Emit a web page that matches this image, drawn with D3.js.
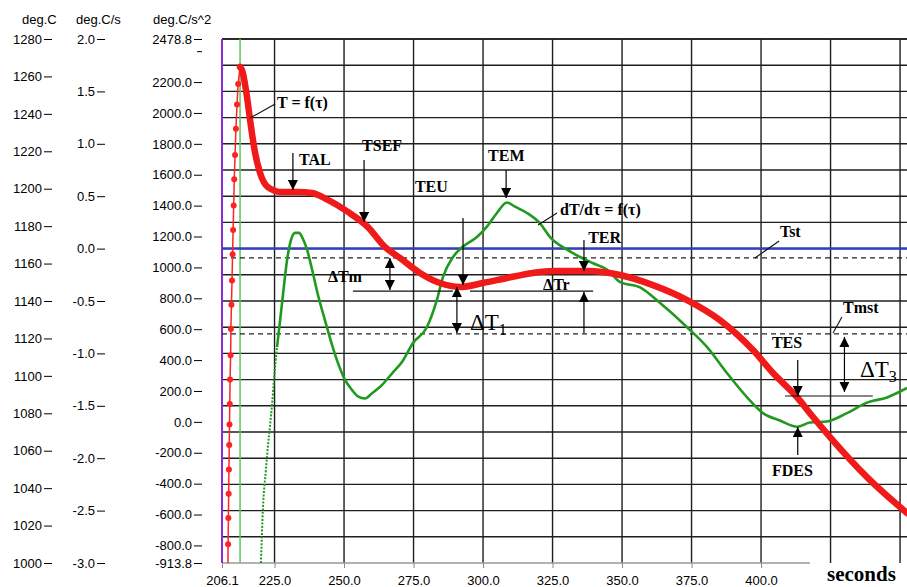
<!DOCTYPE html>
<html>
<head>
<meta charset="utf-8">
<title>Cooling curve T = f(t) and dT/dt</title>
<script src="https://cdn.jsdelivr.net/npm/d3@7"></script>
<style>
  * { margin: 0; padding: 0; }
  body { background: #fff; }
  svg text { font-family: "Liberation Sans", Arial, sans-serif; font-size: 13px; fill: #000; }
  svg text.ann { font-family: "Liberation Serif", "Times New Roman", serif; font-weight: bold; font-size: 16px; }
  svg text.big { font-family: "Liberation Serif", "Times New Roman", serif; font-size: 23px; }
  svg text.sec { font-family: "Liberation Serif", "Times New Roman", serif; font-weight: bold; font-size: 21px; }
</style>
</head>
<body>
<script>
// temperature (deg.C) while the sample heats up - sparse samples
var riseTime = [208.2, 208.3, 208.4, 208.5, 208.6, 208.7, 208.8, 208.9, 209.0, 209.2, 209.3,
  209.5, 209.7, 209.9, 210.1, 210.3, 210.5, 210.8, 211.1, 211.5, 211.9, 212.6]
var riseTemp = [995, 1010, 1024, 1037, 1050, 1063, 1074, 1085, 1098, 1111, 1125,
  1138, 1151, 1165, 1178, 1191, 1205, 1218, 1232, 1245, 1256, 1265]

// temperature (deg.C) while cooling
var coolTime = [212.6, 213.3, 215.1, 216.2, 218.0, 219.8, 222.6, 227.7, 233.4, 238.5, 244.2,
  251.4, 258.6, 264.7, 270.1, 277.3, 284.5, 291.7, 300.0, 308.6, 318.0, 325.2, 337.4,
  349.3, 361.1, 373.4, 385.2, 397.1, 404.3, 412.9, 418.7, 424.8, 438.1, 452.5]
var coolTemp = [1265, 1263.4, 1249, 1236.7, 1219.1, 1208.4, 1200.9, 1198.2, 1198.2, 1197.7, 1194,
  1187.6, 1179.5, 1168.9, 1163, 1155, 1149.6, 1147.5, 1149.6, 1152.3, 1155, 1156, 1156,
  1153.9, 1148.5, 1140.5, 1129.8, 1113.8, 1101.5, 1088.7, 1078, 1067.3, 1045.9, 1026.7]

// cooling rate dT/dt (deg.C/s)
var rateTime = [220.1, 220.8, 221.9, 222.6, 223.4, 224.1, 224.8, 225.9, 227.7, 229.5, 230.9,
  232.4, 233.8, 234.9, 236.7, 238.5, 240.6, 243.1, 245.7, 247.8, 250.3, 252.9, 255.0, 257.5,
  260.1, 263.7, 267.3, 270.9, 274.8, 279.8, 283.4, 285.6, 289.2, 292.8, 297.8, 301.4, 305.0,
  308.6, 311.5, 315.8, 320.5, 324.1, 330.2, 334.9, 339.6, 344.6, 349.3, 356.5, 363.7, 373.4,
  380.6, 387.8, 395.0, 400.7, 406.8, 413.0, 417.6, 423.7, 430.9, 438.1, 445.3, 452.5]
var rateValue = [-3.00, -2.49, -2.11, -1.89, -1.68, -1.49, -1.25, -0.94, -0.52, -0.11, 0.08,
  0.15, 0.15, 0.11, -0.01, -0.20, -0.44, -0.68, -0.92, -1.09, -1.25, -1.35, -1.41, -1.43,
  -1.38, -1.30, -1.19, -1.08, -0.90, -0.75, -0.49, -0.27, -0.08, 0.02, 0.11, 0.21, 0.34,
  0.44, 0.40, 0.34, 0.24, 0.11, -0.01, -0.08, -0.14, -0.20, -0.32, -0.37, -0.52, -0.75,
  -0.94, -1.19, -1.42, -1.57, -1.64, -1.70, -1.66, -1.65, -1.57, -1.47, -1.42, -1.33]

var timeTicks = [206.1, 225, 250, 275, 300, 325, 350, 375, 400]
var gridTimes = [225, 250, 275, 300, 325, 350, 375, 400, 425, 450]
var tempTicks = [1000, 1020, 1040, 1060, 1080, 1100, 1120, 1140, 1160, 1180, 1200, 1220, 1240, 1260, 1280]
var rateTicks = [-3, -2.5, -2, -1.5, -1, -0.5, 0, 0.5, 1, 1.5, 2]
var accTicks = [2478.8, 2400, 2200, 2000, 1800, 1600, 1400, 1200, 1000, 800, 600, 400, 200, 0,
  -200, -400, -600, -800, -913.8]

// reference levels (deg.C)
var startTime = 206.1
var peakTime = 212.6
var tst = 1168
var dashedLevels = [1163, 1122.4]

var w = 907
var h = 587
var plotL = 222, plotR = 907, plotT = 39, plotB = 563

var x = d3.scaleLinear().domain([206.1, 452.5]).range([plotL, plotR])
var tempY = d3.scaleLinear().domain([1000, 1280]).range([plotB, plotT])
var rateY = d3.scaleLinear().domain([-3, 2]).range([plotB, plotT])
var accY = d3.scaleLinear().domain([-913.8, 2478.8]).range([plotB, plotT])

var svg = d3.select('body').append('svg').attr('width', w).attr('height', h)

var defs = svg.append('defs')
defs.append('clipPath').attr('id', 'plot')
  .append('rect').attr('x', plotL).attr('y', plotT).attr('width', plotR - plotL).attr('height', plotB - plotT)

defs.append('marker')
  .attr('id', 'head')
  .attr('viewBox', '0 0 10 10')
  .attr('refX', 10).attr('refY', 5)
  .attr('markerWidth', 10).attr('markerHeight', 10)
  .attr('markerUnits', 'userSpaceOnUse')
  .attr('orient', 'auto-start-reverse')
  .append('path').attr('d', 'M0,0 L10,5 L0,10 z').attr('fill', '#000')

// grid
var hGrid = d3.range(-2.75, 2.01, 0.25)
svg.append('g').selectAll('line').data(hGrid).enter().append('line')
  .attr('x1', plotL).attr('x2', plotR)
  .attr('y1', d => rateY(d)).attr('y2', d => rateY(d))
  .attr('stroke', '#1e1e1e').attr('stroke-width', 1.4)

svg.append('g').selectAll('line').data(gridTimes).enter().append('line')
  .attr('x1', d => x(d)).attr('x2', d => x(d))
  .attr('y1', plotT).attr('y2', plotB)
  .attr('stroke', '#1e1e1e').attr('stroke-width', 1.4)

// x axis (grey baseline stops short of the right edge)
var xAxis = svg.append('g').attr('transform', 'translate(0,' + plotB + ')')
  .call(d3.axisBottom(x).tickValues(timeTicks).tickSize(5).tickPadding(8).tickFormat(d3.format('.1f')))
xAxis.select('.domain').remove()
xAxis.selectAll('line').attr('stroke', '#888')
xAxis.selectAll('text').attr('font-family', null)
svg.append('line').attr('x1', plotL).attr('x2', 810).attr('y1', plotB).attr('y2', plotB)
  .attr('stroke', '#999').attr('stroke-width', 1.5)

svg.append('text').attr('class', 'sec').attr('x', 827).attr('y', 581).text('seconds')

// y axes
function hyphen(f) {
  return d => (d < 0 ? '-' : '') + f(Math.abs(d))
}

function leftAxis(scale, ticks, xPos, fmt) {
  var g = svg.append('g').attr('transform', 'translate(' + xPos + ',0)')
    .call(d3.axisLeft(scale).tickValues(ticks).tickSize(8).tickPadding(2).tickFormat(fmt))
  g.select('.domain').remove()
  g.selectAll('line').attr('stroke', '#000')
  g.selectAll('text').attr('font-family', null)
  return g
}

leftAxis(tempY, tempTicks, 52, d3.format('d'))
leftAxis(rateY, rateTicks, 105, hyphen(d3.format('.1f')))
var acc = leftAxis(accY, accTicks, 202, d => d === 2400 ? '' : hyphen(d3.format('.1f'))(d))
acc.selectAll('.tick line').filter(d => d === 2400).attr('x2', -5)

svg.append('text').attr('x', 22).attr('y', 24).text('deg.C')
svg.append('text').attr('x', 76).attr('y', 24).text('deg.C/s')
svg.append('text').attr('x', 153).attr('y', 24).text('deg.C/s^2')

// top border
svg.append('line').attr('x1', plotL).attr('x2', plotR).attr('y1', plotT).attr('y2', plotT)
  .attr('stroke', '#1e1e1e').attr('stroke-width', 1.4)

// vertical marker lines
svg.append('line').attr('x1', x(startTime)).attr('x2', x(startTime)).attr('y1', plotT).attr('y2', plotB)
  .attr('stroke', '#8a2ccf').attr('stroke-width', 2)
svg.append('line').attr('x1', x(peakTime)).attr('x2', x(peakTime)).attr('y1', plotT).attr('y2', plotB)
  .attr('stroke', '#5cc45c').attr('stroke-width', 1.5)

// reference levels
svg.append('g').selectAll('line').data(dashedLevels).enter().append('line')
  .attr('x1', plotL).attr('x2', plotR)
  .attr('y1', d => tempY(d)).attr('y2', d => tempY(d))
  .attr('stroke', '#222').attr('stroke-width', 1.3).attr('stroke-dasharray', '5,4')
svg.append('line').attr('x1', plotL).attr('x2', plotR).attr('y1', tempY(tst)).attr('y2', tempY(tst))
  .attr('stroke', '#3340b8').attr('stroke-width', 2.5)

var curves = svg.append('g').attr('clip-path', 'url(#plot)')

// dT/dt curve
var rate = d3.zip(rateTime, rateValue)
var rateLine = d3.line().x(d => x(d[0])).y(d => rateY(d[1])).curve(d3.curveMonotoneX)
curves.append('path').datum(rate.slice(0, 8))
  .attr('d', rateLine).attr('fill', 'none')
  .attr('stroke', '#1f9a1f').attr('stroke-width', 2).attr('stroke-dasharray', '2,1.5')
curves.append('path').datum(rate.slice(7))
  .attr('d', rateLine).attr('fill', 'none')
  .attr('stroke', '#1f9a1f').attr('stroke-width', 2.6)

// temperature curve
var rise = d3.zip(riseTime, riseTemp)
var cool = d3.zip(coolTime, coolTemp)
curves.append('path').datum(rise)
  .attr('d', d3.line().x(d => x(d[0])).y(d => tempY(d[1])))
  .attr('fill', 'none').attr('stroke', '#f22').attr('stroke-width', 1.5)
curves.selectAll('circle').data(rise).enter().append('circle')
  .attr('cx', d => x(d[0])).attr('cy', d => tempY(d[1])).attr('r', 3)
  .attr('fill', '#f22')
curves.append('path').datum(cool)
  .attr('d', d3.line().x(d => x(d[0])).y(d => tempY(d[1])).curve(d3.curveMonotoneX))
  .attr('fill', 'none').attr('stroke', '#f01a1a').attr('stroke-width', 6.5)
  .attr('stroke-linecap', 'round')

// annotations, placed in (time, deg.C)
var labels = [
  { text: 'T = f(τ)', t: 225.9, T: 1243.1 },
  { text: 'TAL', t: 233.8, T: 1212.7 },
  { text: 'TSEF', t: 256.5, T: 1220.2 },
  { text: 'TEU', t: 275.5, T: 1198.2 },
  { text: 'TEM', t: 301.8, T: 1214.8 },
  { text: 'dT/dτ = f(τ)', t: 327.7, T: 1186.0 },
  { text: 'TER', t: 337.8, T: 1171.0 },
  { text: 'ΔTr', t: 321.6, T: 1145.9 },
  { text: 'ΔTm', t: 244.2, T: 1150.2 },
  { text: 'Tst', t: 406.8, T: 1174.2 },
  { text: 'Tmst', t: 429.5, T: 1133.6 },
  { text: 'TES', t: 403.9, T: 1114.9 },
  { text: 'FDES', t: 403.9, T: 1046.5 }
]
var bigLabels = [
  { base: 'ΔT', sub: '1', t: 295.3, T: 1124.5 },
  { base: 'ΔT', sub: '3', t: 435.6, T: 1099.4 }
]
// single arrows: head at T2
var arrows = [
  { t: 231.6, T1: 1219.1, T2: 1199.3 },
  { t: 257.2, T1: 1215.3, T2: 1182.2 },
  { t: 292.8, T1: 1184.3, T2: 1148.5 },
  { t: 308.3, T1: 1210.0, T2: 1195.0 },
  { t: 336.3, T1: 1172.6, T2: 1156.0 },
  { t: 336.3, T1: 1122.9, T2: 1144.8 },
  { t: 413.2, T1: 1108.5, T2: 1089.2 },
  { t: 413.2, T1: 1057.7, T2: 1072.7 }
]
var doubleArrows = [
  { t: 266.5, T1: 1163.0, T2: 1145.9 },
  { t: 290.6, T1: 1147.5, T2: 1122.9 },
  { t: 430.0, T1: 1120.8, T2: 1091.4 }
]
var plainLines = [
  [216.2, 1237.8, 225.2, 1245.3],
  [319.8, 1180.6, 326.6, 1187.0],
  [406.5, 1172.1, 397.8, 1163.0],
  [429.1, 1131.4, 425.9, 1122.9],
  [253.2, 1145.3, 289.2, 1145.3],
  [295.3, 1145.3, 339.6, 1145.3],
  [408.6, 1089.2, 440.2, 1089.2]
]

var ann = svg.append('g')
ann.selectAll('line.plain').data(plainLines).enter().append('line')
  .attr('x1', d => x(d[0])).attr('y1', d => tempY(d[1]))
  .attr('x2', d => x(d[2])).attr('y2', d => tempY(d[3]))
  .attr('stroke', '#111').attr('stroke-width', 1.1)
ann.selectAll('line.arrow').data(arrows).enter().append('line')
  .attr('x1', d => x(d.t)).attr('x2', d => x(d.t))
  .attr('y1', d => tempY(d.T1)).attr('y2', d => tempY(d.T2))
  .attr('stroke', '#000').attr('stroke-width', 1.2)
  .attr('marker-end', 'url(#head)')
ann.selectAll('line.double').data(doubleArrows).enter().append('line')
  .attr('x1', d => x(d.t)).attr('x2', d => x(d.t))
  .attr('y1', d => tempY(d.T1)).attr('y2', d => tempY(d.T2))
  .attr('stroke', '#000').attr('stroke-width', 1.2)
  .attr('marker-start', 'url(#head)').attr('marker-end', 'url(#head)')
ann.selectAll('text.ann').data(labels).enter().append('text')
  .attr('class', 'ann')
  .attr('x', d => x(d.t)).attr('y', d => tempY(d.T))
  .text(d => d.text)
var big = ann.selectAll('text.big').data(bigLabels).enter().append('text')
  .attr('class', 'big')
  .attr('x', d => x(d.t)).attr('y', d => tempY(d.T))
big.append('tspan').text(d => d.base)
big.append('tspan').attr('font-size', 16).attr('dy', 5).text(d => d.sub)
</script>
</body>
</html>
